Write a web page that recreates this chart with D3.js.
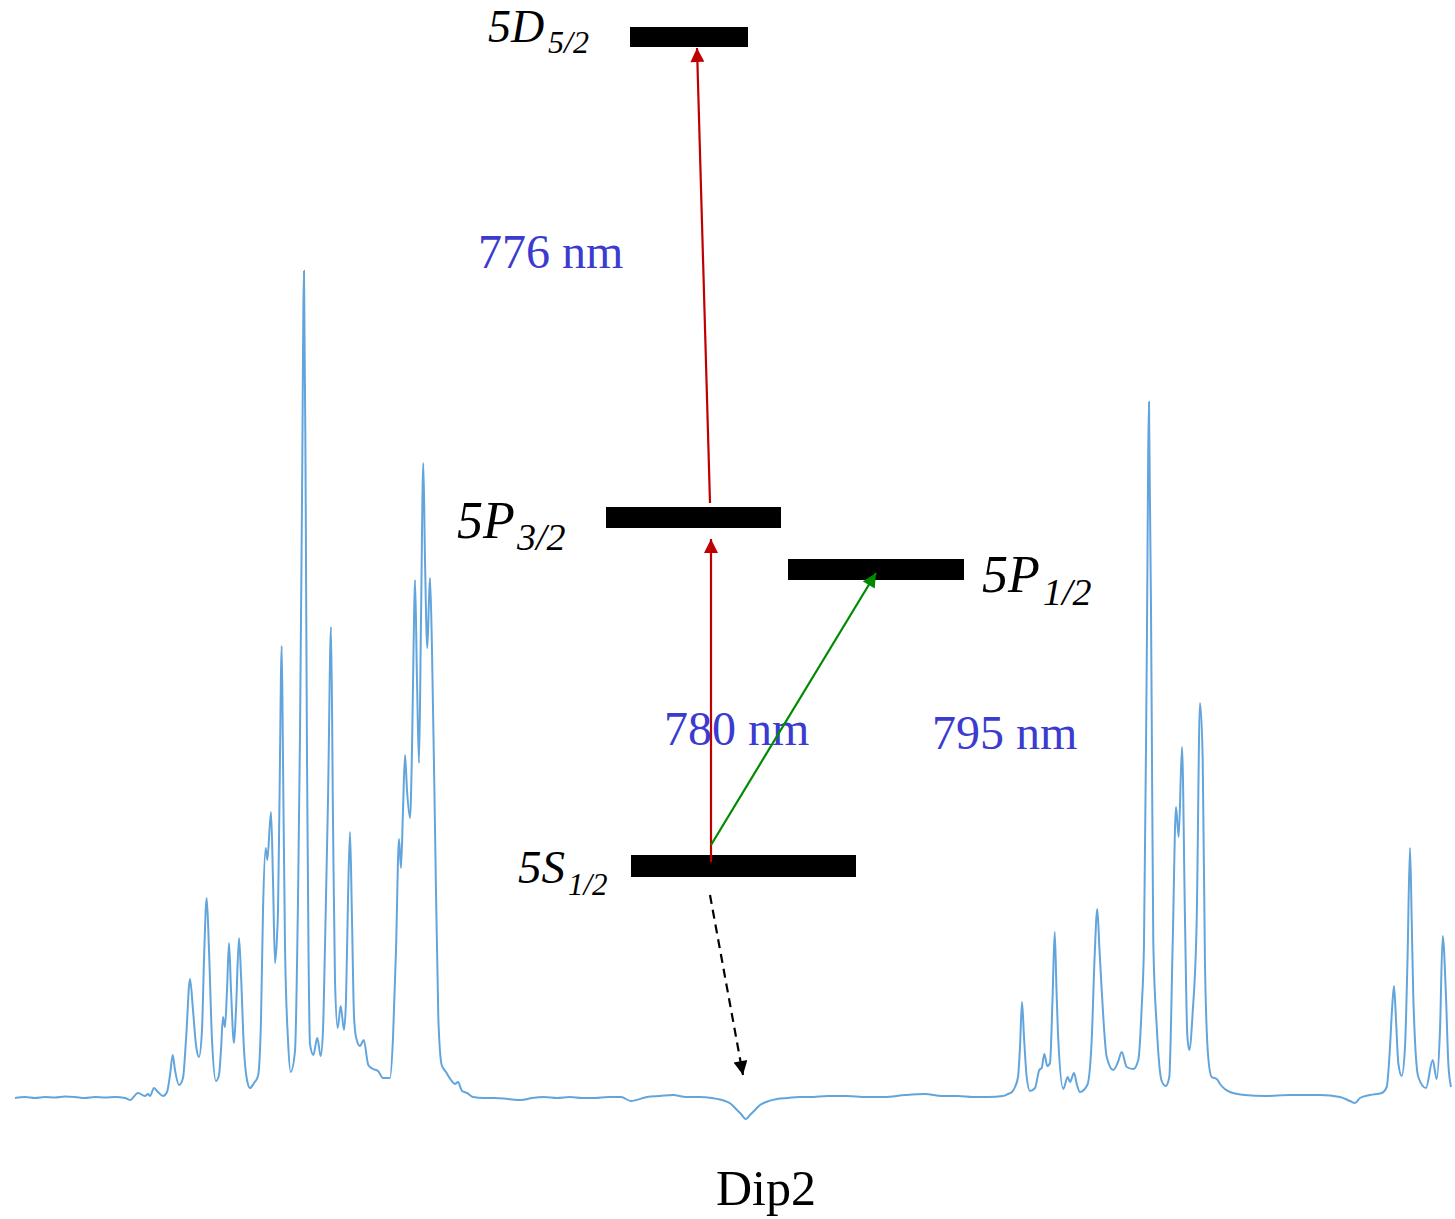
<!DOCTYPE html>
<html>
  <head>
    <meta charset='utf-8'>
    <script src='https://d3js.org/d3.v7.min.js'></script>
    <style>
      body { margin: 0; background: #fff; }
      text { font-family: 'Liberation Serif', 'Times New Roman', serif; }
    </style>
  </head>
<body>
<script type='text/javascript'>
'use strict';

// spectrum: scan position (channel) and signal (arb. units above baseline)
var scanPos = [15, 25, 35, 45, 55, 65, 75, 85, 95, 105, 115, 125, 130, 138, 145, 148, 150, 154, 158, 163,
  167, 170, 172.7, 175, 179, 183, 186, 190, 193, 196, 199, 202, 204, 206.7, 209, 212, 216, 219, 221, 223,
  225, 227, 229, 231, 234, 236, 239, 241, 244, 247, 250, 254, 258, 261, 263, 265.7, 267.3, 271, 273, 275,
  277, 278, 279.5, 281.7, 283, 285, 288, 290.7, 295, 298, 300, 302, 304, 305.7, 307, 308.5, 310, 313.3, 317.3, 320.7,
  323, 325, 328, 331, 333, 335, 337.7, 340.7, 344, 346, 348, 350, 352, 354, 356, 360, 363.7, 368.3, 373, 378,
  383, 390, 393, 396, 399, 401, 403, 405, 407, 410, 412, 414, 415, 417, 419, 421, 423.3, 425, 427.3, 429,
  430, 432, 435, 438.3, 441.7, 446, 451, 455, 458, 462, 467, 473, 484, 495, 508, 521, 532, 544, 557, 570,
  582, 595, 608, 621, 631, 647, 660, 673, 686, 699, 712, 725, 731, 736, 741, 746, 750, 755, 760, 766, 777, 788,
  799, 810, 828, 847, 866, 884, 905, 925, 942, 958, 973, 988, 1003, 1008, 1012, 1015, 1018, 1020, 1022, 1024, 1026.7, 1030,
  1035, 1039.3, 1041.7, 1044.3, 1047.3, 1050, 1052.5, 1054.7, 1056.5, 1058.3, 1063.3, 1067.7, 1070, 1074, 1077, 1080,
  1087.3, 1091.7, 1094.5, 1097.3, 1099.5, 1101.7, 1106.7, 1113.3, 1118, 1121.7, 1126.7, 1133.3, 1138.3, 1141.7, 1144, 1146.7,
  1149, 1151.7, 1153.3, 1156.7, 1161.7, 1165.7, 1169.3, 1172.7, 1176, 1178.7, 1182, 1185, 1187.3, 1189.3, 1192.7, 1196.7,
  1200, 1202.7, 1205, 1208.3, 1211.7, 1216.7, 1220, 1230, 1245, 1265, 1290, 1320, 1340, 1350, 1355, 1360, 1370, 1381.7,
  1386.7, 1390, 1392, 1394, 1396, 1398.3, 1401.7, 1405, 1407.5, 1410, 1411.7, 1413.3, 1418.3, 1426, 1432.7, 1436.7, 1440, 1442.7,
  1446, 1448.3, 1451];

var signal = [-1, 0, -1, 0, -0.5, 0.5, 0, -1, 0, -0.5, 0, -1, -3, 4, 1, 3, 1, 9, 5, 1,
  5, 22, 42, 27, 12, 19, 57, 118, 87, 52, 40, 67, 137, 199, 147, 57, 16, 22, 47, 80,
  70, 107, 154, 107, 54, 87, 159, 122, 47, 17, 9, 14, 21, 77, 186, 249, 237, 285, 217, 134,
  160, 186, 297, 451, 337, 151, 57, 25, 46, 197, 362, 597, 826, 597, 337, 147, 53, 42, 59, 41,
  67, 151, 297, 470, 277, 116, 69, 91, 67, 97, 197, 265, 177, 81, 60, 51, 57, 32, 28, 26,
  19, 19, 59, 147, 258, 229, 287, 342, 307, 279, 347, 477, 517, 417, 334, 477, 634, 537, 449, 497,
  519, 447, 269, 80, 32, 25, 17, 13, 15, 6, 4, 0, -1, -1, -2, -3, -1, 0, -1, 0,
  -1, -1, 0, 0, -4, 0, 1, 2, 0, 0, -1, -4, -7, -12, -17, -22, -18, -13, -8, -5, -2, -1,
  0, 0, 1, 1, 0, 0, 2, 3, 1, 1, 0, 0, 1, 3, 5, 10, 20, 50, 95, 60, 20, 6,
  9, 27, 29, 43, 31, 34, 97, 165, 107, 57, 8, 20, 15, 24, 12, 5,
  12, 57, 137, 188, 147, 107, 40, 27, 35, 45, 30, 28, 37, 90, 154, 430,
  695, 384, 154, 71, 16, 11, 20, 154, 290, 260, 350, 177, 62, 47, 85, 177,
  394, 338, 131, 39, 20, 18, 13, 5, 2, 1, 2, 2, 0, -4, -6, -1, 2, 4,
  10, 50, 87, 111, 77, 34, 21, 50, 137, 249, 177, 100, 20, 9, 37, 18, 67, 161,
  100, 34, 10];

// energy levels and transitions
var levelNames = ['5D', '5P', '5P', '5S'];
var levelSubs = ['5/2', '3/2', '1/2', '1/2'];
var wavelengthLabels = ['776 nm', '780 nm', '795 nm'];
var dipLabel = 'Dip2';

var WIDTH = 1455, HEIGHT = 1219;

var svg = d3.select('body').append('svg')
  .attr('width', WIDTH)
  .attr('height', HEIGHT);

var x = d3.scaleLinear().domain([15, 1452]).range([15, 1452]);
var y = d3.scaleLinear().domain([0, 826]).range([1097, 271]);

var pts = scanPos.map(function (d, i) { return [d, signal[i]]; });

var line = d3.line()
  .x(function (d) { return x(d[0]); })
  .y(function (d) { return y(d[1]); })
  .curve(d3.curveMonotoneX);

svg.append('path')
  .datum(pts)
  .attr('d', line)
  .attr('fill', 'none')
  .attr('stroke', '#62A5DC')
  .attr('stroke-width', 2);

// arrow heads
var defs = svg.append('defs');
function marker(id, color, w, h) {
  defs.append('marker')
    .attr('id', id)
    .attr('viewBox', '0 0 10 10')
    .attr('refX', 10).attr('refY', 5)
    .attr('markerUnits', 'userSpaceOnUse')
    .attr('markerWidth', h).attr('markerHeight', w)
    .attr('orient', 'auto')
    .append('path')
    .attr('d', 'M0,0 L10,5 L0,10 Z')
    .attr('fill', color);
}
marker('headRed', '#C00000', 14, 15);
marker('headGreen', '#008A00', 14, 15);
marker('headBlack', '#000', 14, 16);

// level bars
var bars = [
  { x0: 630, x1: 748, y0: 27, y1: 47 },
  { x0: 606, x1: 781, y0: 507, y1: 528 },
  { x0: 788, x1: 964, y0: 559, y1: 580 },
  { x0: 631, x1: 856, y0: 855, y1: 877 }
];
svg.selectAll('rect.level')
  .data(bars)
  .enter()
  .append('rect')
  .attr('class', 'level')
  .attr('x', function (d) { return d.x0; })
  .attr('y', function (d) { return d.y0; })
  .attr('width', function (d) { return d.x1 - d.x0; })
  .attr('height', function (d) { return d.y1 - d.y0; })
  .attr('fill', '#000');

// level labels
var labelPos = [
  { x: 488, y: 42, size: 46, sx: 548, sy: 53, ssize: 32 },
  { x: 457, y: 538, size: 52, sx: 517, sy: 550, ssize: 38 },
  { x: 982, y: 592, size: 52, sx: 1043, sy: 605, ssize: 38 },
  { x: 518, y: 883, size: 47, sx: 568, sy: 895, ssize: 31 }
];
labelPos.forEach(function (p, i) {
  svg.append('text')
    .attr('x', p.x).attr('y', p.y)
    .style('font-size', p.size + 'px')
    .style('font-style', 'italic')
    .text(levelNames[i]);
  svg.append('text')
    .attr('x', p.sx).attr('y', p.sy)
    .style('font-size', p.ssize + 'px')
    .style('font-style', 'italic')
    .text(levelSubs[i]);
});

// wavelength labels
var wlPos = [[478, 268], [664, 745], [932, 749]];
svg.selectAll('text.wl')
  .data(wavelengthLabels)
  .enter()
  .append('text')
  .attr('class', 'wl')
  .attr('x', function (d, i) { return wlPos[i][0]; })
  .attr('y', function (d, i) { return wlPos[i][1]; })
  .style('font-size', '48px')
  .style('fill', '#3B3BD0')
  .text(function (d) { return d; });

svg.append('text')
  .attr('x', 716).attr('y', 1205)
  .style('font-size', '50px')
  .text(dipLabel);

// transitions
var arrows = [
  { x1: 711, y1: 862, x2: 711, y2: 539, c: '#C00000', m: 'headRed', dash: null },
  { x1: 710, y1: 503, x2: 697, y2: 48, c: '#C00000', m: 'headRed', dash: null },
  { x1: 711, y1: 845, x2: 876, y2: 573, c: '#008A00', m: 'headGreen', dash: null },
  { x1: 710, y1: 895, x2: 743, y2: 1075, c: '#000', m: 'headBlack', dash: '9,6' }
];
svg.selectAll('line.tr')
  .data(arrows)
  .enter()
  .append('line')
  .attr('class', 'tr')
  .attr('x1', function (d) { return d.x1; })
  .attr('y1', function (d) { return d.y1; })
  .attr('x2', function (d) { return d.x2; })
  .attr('y2', function (d) { return d.y2; })
  .attr('stroke', function (d) { return d.c; })
  .attr('stroke-width', 2.2)
  .attr('stroke-dasharray', function (d) { return d.dash; })
  .attr('marker-end', function (d) { return 'url(#' + d.m + ')'; });
</script>
</body>
</html>
